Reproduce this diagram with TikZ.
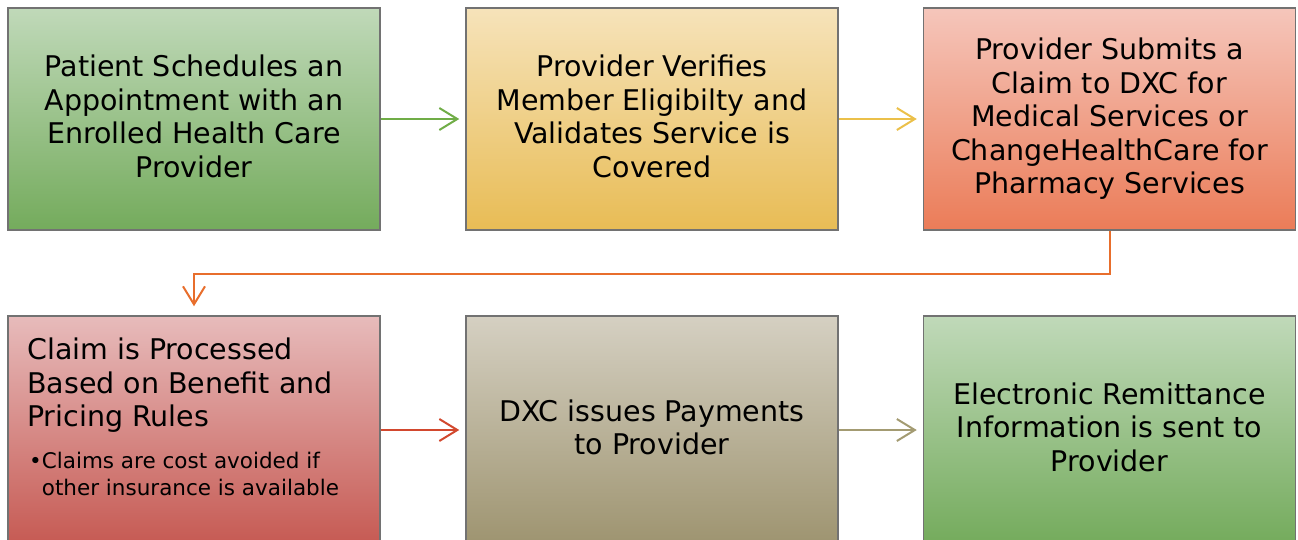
\documentclass[tikz,border=0pt]{standalone}
\usepackage{fontspec}
\setmainfont{DejaVu Sans}
\usetikzlibrary{arrows.meta,positioning}

\definecolor{boxBorder}{HTML}{727272}
\definecolor{greenTop}{HTML}{C0D9B9}
\definecolor{greenBot}{HTML}{74AB5C}
\definecolor{yellowTop}{HTML}{F6E3BA}
\definecolor{yellowBot}{HTML}{E8BC55}
\definecolor{orangeTop}{HTML}{F5C6BB}
\definecolor{orangeBot}{HTML}{EB7C58}
\definecolor{redTop}{HTML}{E7BBBB}
\definecolor{redBot}{HTML}{C65A53}
\definecolor{taupeTop}{HTML}{D5D0C2}
\definecolor{taupeBot}{HTML}{9E9470}
\definecolor{greenArrow}{HTML}{70AD47}
\definecolor{yellowArrow}{HTML}{EBC04A}
\definecolor{orangeArrow}{HTML}{E86E2C}
\definecolor{redArrow}{HTML}{D2482E}
\definecolor{taupeArrow}{HTML}{A39B72}

\tikzset{
  stepbox/.style={draw=boxBorder, line width=1.5pt, minimum width=372pt,
    minimum height=222pt, align=center, inner sep=0pt, text depth=6pt,
    font=\fontsize{28.5}{33.5}\selectfont},
  lowbox/.style={stepbox, minimum height=228pt},
  flow/.style={-{Straight Barb[length=18pt,width=22pt]}, line width=2pt}
}

\begin{document}
\begin{tikzpicture}[x=1pt, y=-1pt]
    \useasboundingbox (0,0) rectangle (1298,539);

    % Top row
    \node[stepbox, top color=greenTop, bottom color=greenBot] (patient) at (194,119)
      {Patient Schedules an\\Appointment with an\\Enrolled Health Care\\Provider};
    \node[stepbox, top color=yellowTop, bottom color=yellowBot] (verify) at (652,119)
      {Provider Verifies\\Member Eligibilty and\\Validates Service is\\Covered};
    \node[stepbox, top color=orangeTop, bottom color=orangeBot] (submit) at (1109.5,119)
      {Provider Submits a\\Claim to DXC for\\Medical Services or\\ChangeHealthCare for\\Pharmacy Services};

    % Bottom row
    \node[lowbox, top color=redTop, bottom color=redBot] (process) at (194,430) {};
    \node[lowbox, top color=taupeTop, bottom color=taupeBot] (payment) at (652,430)
      {DXC issues Payments\\to Provider};
    \node[lowbox, top color=greenTop, bottom color=greenBot] (remit) at (1109.5,430)
      {Electronic Remittance\\Information is sent to\\Provider};

    % Text in the processing box
    \node[anchor=north west, align=left, inner sep=0pt, font=\fontsize{28.5}{33.5}\selectfont]
      (processTitle) at (27,338)
      {Claim is Processed\\Based on Benefit and\\Pricing Rules};
    \node[anchor=north west, align=left, inner sep=0pt, font=\fontsize{21.5}{26.5}\selectfont]
      (processNote) at (29,452)
      {•Claims are cost avoided if\\\phantom{•}other insurance is available};

    % Connections
    \draw[flow, greenArrow, shorten >=6pt] (patient) -- (verify);
    \draw[flow, yellowArrow, shorten >=6pt] (verify) -- (submit);
    \draw[flow, orangeArrow, shorten >=9pt] (submit.south) -- ++(0,43) -| (process.north);
    \draw[flow, redArrow, shorten >=6pt] (process.east |- payment) -- (payment);
    \draw[flow, taupeArrow, shorten >=6pt] (payment) -- (remit);
\end{tikzpicture}
\end{document}
